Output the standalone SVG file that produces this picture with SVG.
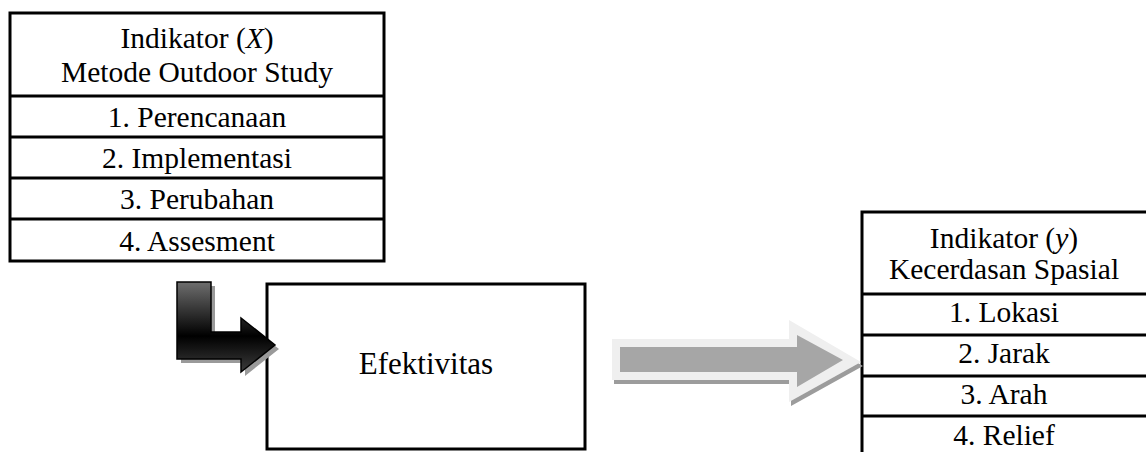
<svg xmlns="http://www.w3.org/2000/svg" width="1146" height="452" viewBox="0 0 1146 452">
<style>
.t{font-family:"Liberation Serif","Times New Roman",serif;font-size:29.5px;fill:#000;text-anchor:middle}
.big{font-size:31px}
.box{fill:#fff;stroke:#000;stroke-width:3}
.ln{stroke:#000;stroke-width:3}
</style>
<defs>
<linearGradient id="dark" gradientUnits="userSpaceOnUse" x1="0" y1="282" x2="0" y2="372">
<stop offset="0" stop-color="#6e6e6e"/>
<stop offset="0.6" stop-color="#000"/>
<stop offset="1" stop-color="#3c3c3c"/>
</linearGradient>
</defs>
<g id="indikator-x">
<rect class="box" x="10" y="13" width="374" height="248"/>
<line class="ln" x1="10" y1="96" x2="384" y2="96"/>
<line class="ln" x1="10" y1="137" x2="384" y2="137"/>
<line class="ln" x1="10" y1="178" x2="384" y2="178"/>
<line class="ln" x1="10" y1="219" x2="384" y2="219"/>
<text class="t" x="197" y="48">Indikator (<tspan font-style="italic">X</tspan>)</text>
<text class="t" x="197" y="82">Metode Outdoor Study</text>
<text class="t" x="197" y="127">1. Perencanaan</text>
<text class="t" x="197" y="168">2. Implementasi</text>
<text class="t" x="197" y="209">3. Perubahan</text>
<text class="t" x="197" y="251">4. Assesment</text>
</g>
<g id="efektivitas">
<rect class="box" x="267" y="284" width="318" height="165"/>
<text class="t big" x="426" y="374">Efektivitas</text>
</g>
<g id="indikator-y">
<rect class="box" x="862" y="212" width="290" height="260"/>
<line class="ln" x1="862" y1="294" x2="1146" y2="294"/>
<line class="ln" x1="862" y1="335" x2="1146" y2="335"/>
<line class="ln" x1="862" y1="376" x2="1146" y2="376"/>
<line class="ln" x1="862" y1="416" x2="1146" y2="416"/>
<text class="t" x="1004" y="248">Indikator (<tspan font-style="italic">y</tspan>)</text>
<text class="t" x="1004" y="279">Kecerdasan Spasial</text>
<text class="t" x="1004" y="322">1. Lokasi</text>
<text class="t" x="1004" y="363">2. Jarak</text>
<text class="t" x="1004" y="404">3. Arah</text>
<text class="t" x="1004" y="445">4. Relief</text>
</g>
<g id="connectors">
<path d="M177,282 H211 V332 H241 V318 L275,345 L241,372 V359 H177 Z" transform="translate(4,4)" fill="#9a9a9a"/>
<path d="M177,282 H211 V332 H241 V318 L275,345 L241,372 V359 H177 Z" fill="url(#dark)" stroke="#000" stroke-width="1.5" stroke-linejoin="miter"/>
<path d="M612,339 H789 V320 L861,362 L789,402 V380 H612 Z" transform="translate(2,4)" fill="#9c9c9c"/>
<path d="M612,339 H789 V320 L861,362 L789,402 V380 H612 Z" fill="#efefef"/>
<path d="M620,347 H797 V335 L843,360 L797,387 V372 H620 Z" fill="#a6a6a6"/>
</g>
</svg>
